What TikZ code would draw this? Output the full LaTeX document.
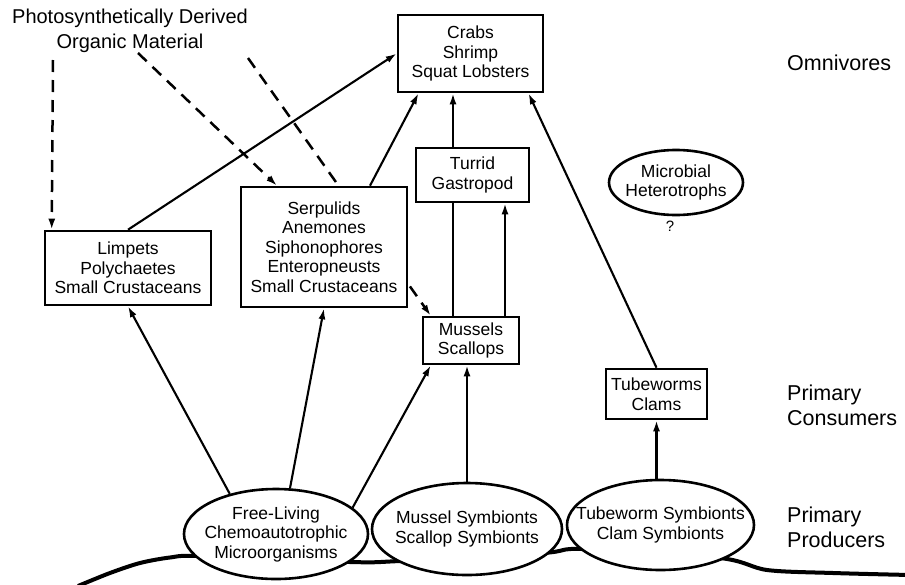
\documentclass[tikz,border=0pt]{standalone}
\usepackage{fontspec}
\setmainfont{Liberation Sans}
\usetikzlibrary{arrows.meta,shapes.geometric,backgrounds}
\def\foodbox{\node[draw,line width=2.6pt,fill=white,inner sep=0pt,align=center,font=\fontsize{17.5}{19.5}\selectfont]}
\def\foodoval{\node[ellipse,draw,line width=2.6pt,fill=white,inner xsep=-28pt,inner ysep=-15pt,align=center,font=\fontsize{17.5}{19.5}\selectfont]}
\def\levelnode{\node[anchor=west,inner sep=0pt,align=left,font=\fontsize{21.5}{25}\selectfont]}
\def\drawfeed{\draw[line width=2.1pt,-{Latex[length=11pt,width=7pt]}]}
\def\drawdetritus{\draw[line width=2.5pt,dash pattern=on 12pt off 8pt,-{Latex[length=11pt,width=7pt]}]}

\begin{document}
\begin{tikzpicture}[x=1pt,y=-1pt]
\useasboundingbox (0,0) rectangle (905,584);
\draw[line width=4pt] plot[smooth,tension=0.5] coordinates {(78,586) (110,573) (140,563) (170,557.5) (200,556) (350,562) (400,561) (543,553) (582,549) (720,558) (767,570) (833,573) (910,575)};
\node[align=center,font=\fontsize{20}{25}\selectfont] (source) at (130,31) {Photosynthetically Derived\\Organic Material};
\coordinate (src1) at (53,60);
\coordinate (src2) at (138,53);
\coordinate (src3) at (248,58);
\foodbox (crabs) at (470.5,53.5) [minimum width=145pt,minimum height=77pt] {Crabs\\Shrimp\\Squat Lobsters};
\foodbox (turrid) at (472.5,175) [minimum width=113pt,minimum height=54pt] {Turrid\\Gastropod};
\foodbox (limpets) at (128,268) [minimum width=166pt,minimum height=74pt] {Limpets\\Polychaetes\\Small Crustaceans};
\foodbox (serpulids) at (324,247) [minimum width=166pt,minimum height=120pt] {Serpulids\\Anemones\\Siphonophores\\Enteropneusts\\Small Crustaceans};
\foodbox (mussels) at (471,340.5) [minimum width=96pt,minimum height=47pt] {Mussels\\Scallops};
\foodbox (tubeworms) at (656.5,394) [minimum width=101pt,minimum height=50pt] {Tubeworms\\Clams};
\foodoval (freeliving) at (276,534) [minimum width=184pt,minimum height=90pt] {Free-Living\\Chemoautotrophic\\Microorganisms};
\foodoval (musselsym) at (467,529) [minimum width=190pt,minimum height=92pt] {Mussel Symbionts\\Scallop Symbionts};
\foodoval (tubesym) at (660.5,525) [minimum width=187pt,minimum height=90pt] {Tubeworm Symbionts\\Clam Symbionts};
\foodoval (microbial) at (676,182.5) [minimum width=134pt,minimum height=65pt] {Microbial\\Heterotrophs};
\node[font=\fontsize{15}{16}\selectfont] (unknown) at (670,226) {?};
\levelnode (omnivores) at (787,63) {Omnivores};
\levelnode (consumers) at (787,405) {Primary\\Consumers};
\levelnode (producers) at (787,527) {Primary\\Producers};
\begin{pgfonlayer}{background}
\drawdetritus (src3) -- ([xshift=9pt]mussels.north west);
\drawfeed ([xshift=-18pt]mussels.north) -- ([xshift=-17.5pt]crabs.south);
\end{pgfonlayer}
\drawdetritus (src1) -- ([xshift=8pt]limpets.north west);
\drawdetritus (src2) -- ([xshift=-47pt]serpulids.north);
\drawfeed (limpets.north) -- (crabs.west);
\drawfeed ([xshift=46pt]serpulids.north) -- ([xshift=-52pt]crabs.south);
\drawfeed ([xshift=34pt]mussels.north) -- ([xshift=32.5pt]turrid.south);
\drawfeed (tubeworms.north) -- ([xshift=58pt]crabs.south);
\drawfeed (freeliving.139) -- (limpets.south);
\drawfeed (freeliving.73) -- (serpulids.south);
\drawfeed (freeliving.19) -- ([xshift=9pt]mussels.south west);
\drawfeed (musselsym.north) -- (musselsym.north |- mussels.south);
\drawfeed (tubeworms.south |- tubesym.north) -- (tubeworms.south);
\end{tikzpicture}
\end{document}
